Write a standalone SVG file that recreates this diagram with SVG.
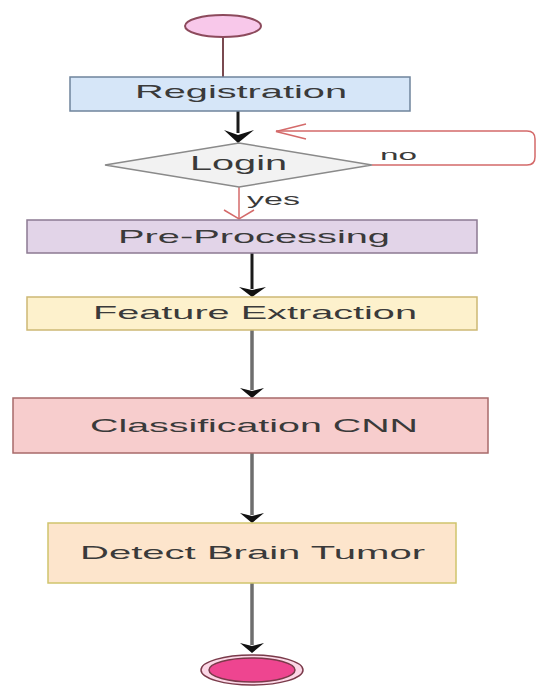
<svg xmlns="http://www.w3.org/2000/svg" width="538" height="686" viewBox="0 0 538 686">
<style>
  text { font-family: "Liberation Sans", Arial, sans-serif; fill: #3a3a3a; }
  .lbl { font-size: 19px; }
  .box { stroke-width: 1.5; }
  .blk { stroke: #1a1a1a; stroke-width: 3; fill: none; }
  .gry { stroke: #6e6e6e; stroke-width: 3.5; fill: none; }
  .red { stroke: #d46a6a; stroke-width: 1.5; fill: none; }
</style>
<defs>
  <marker id="tri" viewBox="0 0 24 10" refX="12" refY="10" markerWidth="24" markerHeight="10" markerUnits="userSpaceOnUse" orient="auto-start-reverse">
    <path d="M0,0 L12,10 L24,0 L12,3 Z" fill="#111"/>
  </marker>
</defs>
<rect width="538" height="686" fill="#ffffff"/>

<g id="connectors">
  <line x1="223" y1="37" x2="223" y2="77" stroke="#7a4a50" stroke-width="2"/>
  <line x1="238" y1="111" x2="238" y2="133" class="blk"/>
  <path d="M224,130 L238,143 L254,130 L238,135 Z" fill="#111"/>
  <path d="M372,165 H527 Q535,165 535,157 V139 Q535,131 527,131 H276" class="red"/>
  <path d="M306,124 L276,131.5 L306,139" class="red"/>
  <line x1="239" y1="187" x2="239" y2="219" class="red"/>
  <path d="M224,210 L239,219 L254,210" class="red"/>
  <line x1="252" y1="253" x2="252" y2="289" class="blk"/>
  <path d="M239,287 L252,297 L266,287 L252,290 Z" fill="#111"/>
  <line x1="252" y1="330" x2="252" y2="390" class="gry"/>
  <path d="M240,388 L252,398 L264,388 L252,391 Z" fill="#111"/>
  <line x1="252" y1="453" x2="252" y2="515" class="gry"/>
  <path d="M240,513 L252,523 L264,513 L252,516 Z" fill="#111"/>
  <line x1="252" y1="583" x2="252" y2="645" class="gry"/>
  <path d="M240,643 L252,653 L264,643 L252,646 Z" fill="#111"/>
</g>

<g id="start">
  <ellipse cx="223" cy="26" rx="38" ry="11" fill="#f8c8ea" stroke="#8c4a5c" stroke-width="2"/>
</g>

<g id="registration">
  <rect x="70" y="77" width="340" height="34" fill="#d6e6f8" stroke="#6f849c" class="box"/>
  <text class="lbl" x="135" y="98" textLength="212" lengthAdjust="spacingAndGlyphs">Registration</text>
</g>

<g id="login">
  <polygon points="239,143 372,165 239,187 105,165" fill="#f2f2f2" stroke="#8a8a8a" stroke-width="1.5"/>
  <text x="190" y="170" font-size="20" textLength="97" lengthAdjust="spacingAndGlyphs">Login</text>
</g>

<text x="380" y="160" font-size="15" textLength="37" lengthAdjust="spacingAndGlyphs">no</text>
<text x="247" y="205" font-size="16" textLength="53" lengthAdjust="spacingAndGlyphs">yes</text>

<g id="preprocessing">
  <rect x="27" y="220" width="450" height="33" fill="#e2d4e8" stroke="#8c7a92" class="box"/>
  <text class="lbl" x="118" y="243" textLength="272" lengthAdjust="spacingAndGlyphs">Pre-Processing</text>
</g>

<g id="feature">
  <rect x="27" y="297" width="450" height="33" fill="#fdf1cc" stroke="#cdb874" class="box"/>
  <text class="lbl" x="93" y="319" textLength="324" lengthAdjust="spacingAndGlyphs">Feature Extraction</text>
</g>

<g id="classification">
  <rect x="13" y="398" width="475" height="55" fill="#f7cdcd" stroke="#a86a6a" class="box"/>
  <text class="lbl" x="90" y="432" textLength="328" lengthAdjust="spacingAndGlyphs">Classification CNN</text>
</g>

<g id="detect">
  <rect x="48" y="523" width="408" height="60" fill="#fde5cc" stroke="#cfc46c" class="box"/>
  <text class="lbl" x="80" y="559" textLength="345" lengthAdjust="spacingAndGlyphs">Detect Brain Tumor</text>
</g>

<g id="end">
  <ellipse cx="252" cy="670" rx="51" ry="15" fill="#fbd7e6" stroke="#7a3a4a" stroke-width="1.5"/>
  <ellipse cx="252" cy="670" rx="43" ry="12" fill="#ee4590" stroke="#7a3a4a" stroke-width="1.5"/>
</g>
</svg>
